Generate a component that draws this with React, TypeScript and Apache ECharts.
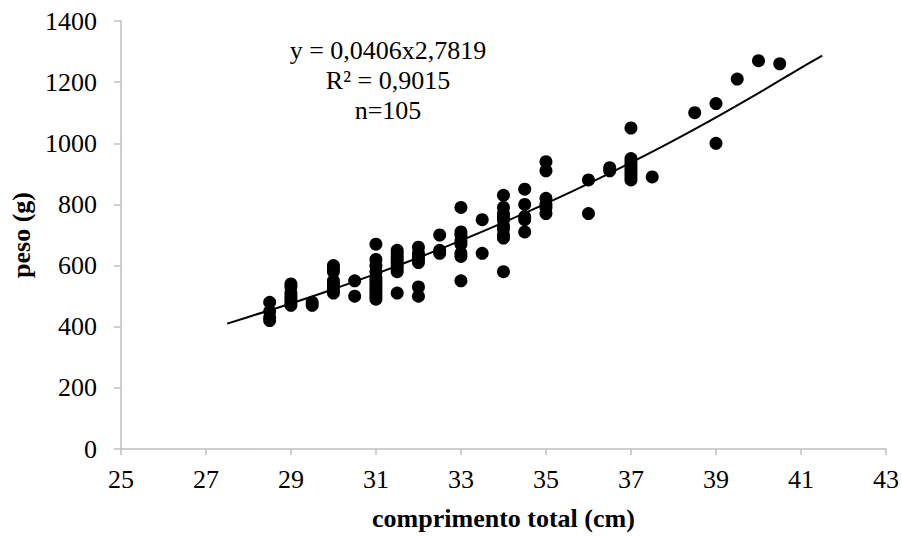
import React, { useEffect, useRef } from "react";
import * as echarts from "echarts";

// Observed data (comprimento total, cm / peso, g)
const lengthCm: number[] = [
  28.5, 28.5, 28.5, 28.5,
  29, 29, 29, 29, 29, 29, 29,
  29.5, 29.5,
  30, 30, 30, 30, 30, 30, 30, 30,
  30.5, 30.5,
  31, 31, 31, 31, 31, 31, 31, 31, 31, 31, 31, 31,
  31.5, 31.5, 31.5, 31.5, 31.5, 31.5, 31.5, 31.5, 31.5,
  32, 32, 32, 32, 32, 32, 32,
  32.5, 32.5, 32.5,
  33, 33, 33, 33, 33, 33, 33, 33,
  33.5, 33.5,
  34, 34, 34, 34, 34, 34, 34, 34, 34, 34,
  34.5, 34.5, 34.5, 34.5, 34.5,
  35, 35, 35, 35, 35, 35,
  36, 36,
  36.5, 36.5,
  37, 37, 37, 37, 37, 37, 37, 37, 37,
  37.5,
  38.5,
  39, 39,
  39.5,
  40,
  40.5,
];
const weightG: number[] = [
  480, 450, 430, 420,
  540, 530, 510, 500, 490, 480, 470,
  480, 470,
  600, 590, 580, 550, 540, 530, 520, 510,
  550, 500,
  670, 620, 600, 580, 560, 550, 540, 530, 520, 510, 500, 490,
  650, 640, 630, 620, 610, 600, 590, 580, 510,
  660, 640, 630, 620, 610, 530, 500,
  700, 650, 640,
  790, 710, 700, 680, 670, 640, 630, 550,
  750, 640,
  830, 790, 770, 760, 750, 730, 720, 700, 690, 580,
  850, 800, 760, 750, 710,
  940, 910, 820, 800, 790, 770,
  880, 770,
  920, 910,
  1050, 950, 940, 930, 920, 910, 900, 890, 880,
  890,
  1100,
  1130, 1000,
  1210,
  1270,
  1260,
];

// Power trend line
const trendX: number[] = [27.5, 28, 29, 30, 31, 32, 33, 34, 35, 36, 37, 38, 39, 40, 41, 41.5];
const trendY: number[] = [410, 432, 476, 523, 573, 626, 682, 741, 803, 868, 937, 1009, 1085, 1164, 1247, 1287];

const xTicks = { min: 25, max: 43, interval: 2 };
const yTicks = { min: 0, max: 1400, interval: 200 };

const annotationLines: string[] = ["y = 0,0406x2,7819", "R² = 0,9015", "n=105"];

const FONT = "'Times New Roman', 'Liberation Serif', serif";

export default function App() {
  const ref = useRef<HTMLDivElement>(null);
  useEffect(() => {
    if (!ref.current) return;
    const chart = echarts.init(ref.current, undefined, { renderer: "svg" });
    const axisColor = "#bfbfbf";
    chart.setOption({
      animation: false,
      backgroundColor: "#ffffff",
      grid: { left: 117.7, right: 14.3, top: 21, bottom: 85, containLabel: false },
      xAxis: {
        type: "value",
        min: xTicks.min,
        max: xTicks.max,
        interval: xTicks.interval,
        name: "comprimento total (cm)",
        nameLocation: "middle",
        nameGap: 56,
        nameTextStyle: { fontFamily: FONT, fontSize: 26, fontWeight: "bold", color: "#000" },
        axisLine: { show: true, lineStyle: { color: axisColor, width: 1.5 } },
        axisTick: { show: true, inside: false, length: 6, lineStyle: { color: axisColor, width: 1.5 } },
        axisLabel: { fontFamily: FONT, fontSize: 26, color: "#000", margin: 17, formatter: (v: number) => String(v) },
        splitLine: { show: false },
      },
      yAxis: {
        type: "value",
        min: yTicks.min,
        max: yTicks.max,
        interval: yTicks.interval,
        name: "peso (g)",
        nameLocation: "middle",
        nameGap: 84,
        nameRotate: 90,
        nameTextStyle: { fontFamily: FONT, fontSize: 26, fontWeight: "bold", color: "#000" },
        axisLine: { show: true, lineStyle: { color: axisColor, width: 1.5 } },
        axisTick: { show: true, inside: false, length: 7, lineStyle: { color: axisColor, width: 1.5 } },
        axisLabel: { fontFamily: FONT, fontSize: 26, color: "#000", margin: 24, formatter: (v: number) => String(v) },
        splitLine: { show: false },
      },
      graphic: annotationLines.map((t, i) => ({
        type: "text",
        x: 388,
        y: 50 + i * 30,
        style: {
          text: t,
          fontFamily: FONT,
          fontSize: 26,
          fill: "#000",
          align: "center",
          verticalAlign: "middle",
        },
      })),
      series: [
        {
          type: "line",
          data: trendX.map((x, i) => [x, trendY[i]]),
          smooth: true,
          showSymbol: false,
          lineStyle: { color: "#000", width: 2 },
          z: 3,
        },
        {
          type: "scatter",
          data: lengthCm.map((x, i) => [x, weightG[i]]),
          symbol: "circle",
          symbolSize: 13,
          itemStyle: { color: "#000", opacity: 1 },
          z: 2,
        },
      ],
    });
    return () => chart.dispose();
  }, []);
  return (
    <div
      ref={ref}
      style={{ position: "fixed", left: 0, top: 0, width: 902, height: 536 }}
    />
  );
}
